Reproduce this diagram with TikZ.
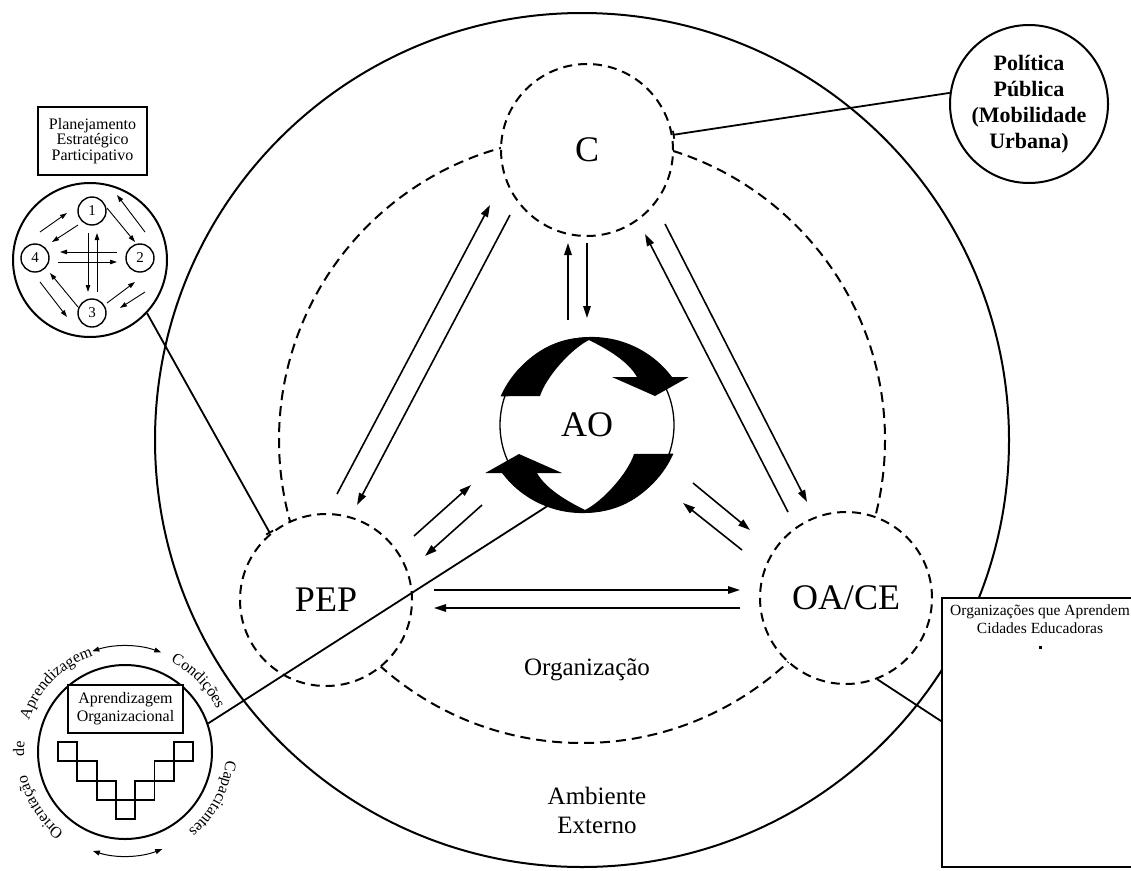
\documentclass[tikz,border=0pt]{standalone}
\usepackage{fontspec}
\setmainfont{Liberation Serif}
\usetikzlibrary{arrows.meta,calc,decorations.text}
\begin{document}
\begin{tikzpicture}[x=1pt,y=-1pt,
  lbl/.style={font=\fontsize{36}{40}\selectfont},
  dcirc/.style={circle, draw, line width=2pt, dash pattern=on 9pt off 6pt, fill=white, minimum size=172pt, inner sep=0pt},
  scirc/.style={circle, draw, line width=2pt, fill=white, inner sep=0pt},
  arr/.style={line width=1.6pt, -{Triangle[length=12pt,width=7.5pt]}},
  sarr/.style={line width=0.9pt, -{Triangle[length=7pt,width=4.5pt]}},
  conn/.style={line width=1.8pt},
  tick/.style={conn, -{Bar[width=8pt]}},
  num/.style={circle, draw, line width=1.4pt, minimum size=28pt, inner sep=0pt, fill=white, font=\fontsize{15}{15}\selectfont},
  sq/.style={draw, line width=1.8pt},
  curv/.style={line width=1pt, {Triangle[length=7pt,width=5pt]}-{Triangle[length=7pt,width=5pt]}},
  arctext/.style={decorate, decoration={text along path, text align=center, text={|\fontsize{16}{16}\selectfont|#1}}}
]
\useasboundingbox (0,0) rectangle (1131,870);
\clip (0,0) rectangle (1131,870);
\fill[white] (0,0) rectangle (1131,870);

% environment circles
\coordinate (O) at (582,440);
\draw[line width=2pt] (O) circle[radius=427];
\draw[line width=2pt, dash pattern=on 10pt off 6pt] (O) circle[radius=303];

% main dashed circles
\node[dcirc, lbl] (C) at (587,150) {C};
\node[dcirc, lbl] (PEP) at (326,600) {PEP};
\node[dcirc, lbl] (OA) at (846,598) {OA/CE};

% AO symbol
\node[circle, draw, line width=1.3pt, minimum size=174pt, inner sep=0pt, fill=white, lbl] (AO) at (587,425) {AO};
\begin{scope}[shift={(AO.center)}]
 \fill (-86.4,-28.7) arc[start angle=-156,end angle=-36.9,radius=100] -- (50,-48)
   .. controls (41,-64) and (20,-76) .. (2,-85)
   .. controls (-16,-76) and (-41,-48) .. (-47,-29) -- cycle;
 \fill (25,-48) -- (101.7,-48) -- (68,-29) -- cycle;
 \fill (86.4,28.7) arc[start angle=24,end angle=143.1,radius=100] -- (-50,48)
   .. controls (-41,64) and (-20,76) .. (-2,85)
   .. controls (16,76) and (41,48) .. (47,29) -- cycle;
 \fill (-25,48) -- (-101.7,48) -- (-68,29) -- cycle;
\end{scope}

% arrows between main circles
\draw[arr] ([shift={(11,-106)}]PEP.center) -- ([shift={(-97,55)}]C.center);
\draw[arr] ([shift={(-77,65)}]C.center) -- ([shift={(31,-95)}]PEP.center);
\draw[arr] ([shift={(-19,-105)}]AO.center) -- ([shift={(-19,93)}]C.center);
\draw[arr] ([shift={(0,93)}]C.center) -- ([shift={(0,-107)}]AO.center);
\draw[arr] ([shift={(-58,-86)}]OA.center) -- ([shift={(58,84)}]C.center);
\draw[arr] ([shift={(78,74)}]C.center) -- ([shift={(-39,-96)}]OA.center);
\draw[arr] ([shift={(88,-64)}]PEP.center) -- ([shift={(-116,60)}]AO.center);
\draw[arr] ([shift={(-105,80)}]AO.center) -- ([shift={(99,-44)}]PEP.center);
\draw[arr] ([shift={(106,58)}]AO.center) -- ([shift={(-96,-68)}]OA.center);
\draw[arr] ([shift={(-104,-48)}]OA.center) -- ([shift={(96,78)}]AO.center);
\draw[arr] ([shift={(108,-10)}]PEP.center) -- ([shift={(-106,-8)}]OA.center);
\draw[arr] ([shift={(-106,10)}]OA.center) -- ([shift={(108,8)}]PEP.center);

% labels
\node[font=\fontsize{25}{29}\selectfont] (ORG) at (587,670) {Organização};
\node[font=\fontsize{25}{29}\selectfont, align=center] (AMB) at (597,810) {Ambiente\\Externo};

% Planejamento
\node[draw, line width=1.8pt, minimum width=109pt, minimum height=68pt, inner sep=0pt, align=center, font=\fontsize{16}{15.5}\selectfont] (PLB) at (92.5,141) {Planejamento\\Estratégico\\Participativo};
\node[scirc, minimum size=154pt] (PL) at (90,260) {};
\node[num] (n1) at (92,211) {1};
\node[num] (n2) at (140,258) {2};
\node[num] (n3) at (92,313) {3};
\node[num] (n4) at (35,258) {4};
\draw[sarr] ([shift={(15,-3)}]n1.center) -- ([shift={(-5,-16)}]n2.center);
\draw[sarr] ([shift={(5,-26)}]n2.center) -- ([shift={(25,-16)}]n1.center);
\draw[sarr] ([shift={(5,-26)}]n4.center) -- ([shift={(-25,2)}]n1.center);
\draw[sarr] ([shift={(-14,14)}]n1.center) -- ([shift={(17,-16)}]n4.center);
\draw[sarr] ([shift={(-23,-6)}]n2.center) -- ([shift={(25,-6)}]n4.center);
\draw[sarr] ([shift={(23,4)}]n4.center) -- ([shift={(-23,4)}]n2.center);
\draw[sarr] ([shift={(-4,22)}]n1.center) -- ([shift={(-4,-21)}]n3.center);
\draw[sarr] ([shift={(5,-21)}]n3.center) -- ([shift={(5,22)}]n1.center);
\draw[sarr] ([shift={(5,24)}]n4.center) -- ([shift={(-25,4)}]n3.center);
\draw[sarr] ([shift={(-14,-6)}]n3.center) -- ([shift={(15,15)}]n4.center);
\draw[sarr] ([shift={(15,-10)}]n3.center) -- ([shift={(-5,24)}]n2.center);
\draw[sarr] ([shift={(5,34)}]n2.center) -- ([shift={(28,-5)}]n3.center);

% Politica publica
\node[scirc, minimum size=158pt, align=center, font=\bfseries\fontsize{22}{26}\selectfont] (POL) at (1029,104) {Política\\Pública\\(Mobilidade\\Urbana)};

% Aprendizagem organizacional circle
\node[scirc, minimum size=174pt] (BL) at (125,752) {};
\node[draw, line width=1.8pt, fill=white, minimum width=115pt, minimum height=48pt, inner sep=0pt, align=center, font=\fontsize{16}{18}\selectfont] (AOB) at (125.5,709) {Aprendizagem\\Organizacional};
\foreach \i/\r in {0/0,1/1,2/2,3/3,4/2,5/1,6/0}
  \draw[sq] ({58+\i*19.3},{742+\r*19.3}) rectangle ++(19.3,19.3);
\path[arctext=Condições] ([shift={(-72:101)}]BL.center) arc[start angle=-72,end angle=-16,radius=101];
\path[arctext=Capacitantes] ([shift={(-2:101)}]BL.center) arc[start angle=-2,end angle=58,radius=101];
\path[arctext=Orientação] ([shift={(118:101)}]BL.center) arc[start angle=118,end angle=176,radius=101];
\path[arctext=de] ([shift={(168:101)}]BL.center) arc[start angle=168,end angle=196,radius=101];
\path[arctext=Aprendizagem] ([shift={(193:101)}]BL.center) arc[start angle=193,end angle=257,radius=101];
\draw[curv] ([shift={(-108:106)}]BL.center) arc[start angle=-108,end angle=-70,radius=106];
\draw[curv] ([shift={(108:104)}]BL.center) arc[start angle=108,end angle=69,radius=104];

% right box
\node[draw, line width=1.8pt, fill=white, minimum width=196pt, minimum height=269pt, inner sep=0pt] (BOX) at (1040,732.5) {};
\node[font=\fontsize{15.5}{18}\selectfont, align=center] (BOXT) at (1040,619) {Organizações que Aprendem\\Cidades Educadoras};
\fill (1038.5,645.5) rectangle ++(3,3);

% connector lines
\draw[tick] (PL.-43) -- (PEP.130);
\draw[tick] (POL.172) -- (C.10);
\draw[conn] (AO.245) -- (BL.19);
\draw[conn] (OA.-69) -- ([shift={(0,124)}]BOX.north west);
\end{tikzpicture}
\end{document}
